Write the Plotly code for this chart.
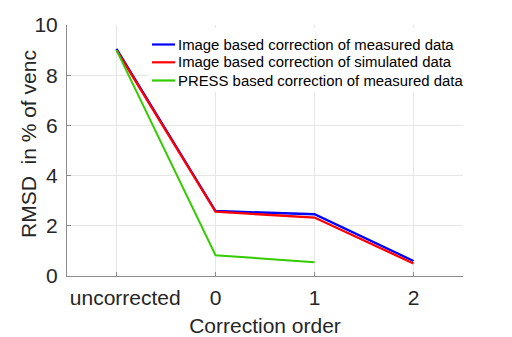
import plotly.graph_objects as go

categories = ["\u00a0\u00a0\u00a0uncorrected", "0", "1", "2"]
blue_vals = [9.05, 2.59, 2.46, 0.60]
red_vals = [9.0, 2.56, 2.33, 0.50]
green_vals = [9.0, 0.83, 0.55]

names = ["Image based correction of measured data",
         "Image based correction of simulated data",
         "PRESS based correction of measured data"]
colors = ["rgb(0,0,255)", "rgb(255,0,0)", "rgb(51,204,0)"]
y_title = "RMSD  in % of venc"
x_title = "Correction order"

fig = go.Figure()
for vals, nm, col, w in zip([blue_vals, red_vals, green_vals], names, colors, [2.3, 2.3, 2]):
    fig.add_trace(go.Scatter(x=list(range(len(vals))), y=vals, mode="lines",
                             name=nm, line=dict(color=col, width=w), showlegend=False))

# custom legend (paper coordinates)
W, H = 504, 329
L, R, T, B = 59, 49, 17, 61
pw, ph = W - L - R, H - T - B
def px(xp):  # page x -> paper
    return (xp - 8 - L) / pw
def py(yp):  # page y -> paper
    return 1 - (yp - 8 - T) / ph

shapes = [dict(type="rect", xref="paper", yref="paper",
               x0=px(148), x1=px(460), y0=py(92), y1=py(28),
               fillcolor="white", line=dict(width=0), layer="above")]
annotations = []
row_y = [44.5, 62.3, 80.5]
for nm, col, yy in zip(names, colors, row_y):
    shapes.append(dict(type="line", xref="paper", yref="paper",
                       x0=px(152), x1=px(175), y0=py(yy), y1=py(yy),
                       line=dict(color=col, width=2.2), layer="above"))
    annotations.append(dict(text=nm, xref="paper", yref="paper",
                            x=px(176), y=py(yy), xanchor="left", yanchor="middle",
                            showarrow=False, font=dict(size=14.9, color="black")))
annotations.append(dict(text=y_title, xref="paper", yref="paper",
                        x=px(28), y=py(144), xanchor="center", yanchor="middle",
                        textangle=-90, showarrow=False,
                        font=dict(size=21, color="#262626")))

font_family = "Liberation Sans, Arial, sans-serif"
fig.update_layout(
    width=W, height=H,
    margin=dict(l=L, r=R, t=T, b=B, autoexpand=False),
    paper_bgcolor="white", plot_bgcolor="white",
    font=dict(family=font_family, color="#262626"),
    showlegend=False,
    shapes=shapes, annotations=annotations,
    xaxis=dict(range=[-0.5, 3.5], tickmode="array",
               tickvals=list(range(len(categories))), ticktext=categories,
               showgrid=True, gridcolor="#e6e6e6", gridwidth=1,
               showline=True, linecolor="#8c8c8c", linewidth=1,
               ticks="inside", ticklen=4, tickcolor="#8c8c8c",
               tickfont=dict(size=21), zeroline=False, automargin=False,
               ticklabelstandoff=3,
               title=dict(text=x_title, font=dict(size=21), standoff=12)),
    yaxis=dict(range=[0, 10], tickmode="array", tickvals=[0, 2, 4, 6, 8, 10],
               showgrid=True, gridcolor="#e6e6e6", gridwidth=1,
               showline=True, linecolor="#8c8c8c", linewidth=1,
               ticks="inside", ticklen=4, tickcolor="#8c8c8c",
               tickfont=dict(size=21), zeroline=False, automargin=False,
               ticklabelstandoff=4),
)

fig.write_html("out.html")
